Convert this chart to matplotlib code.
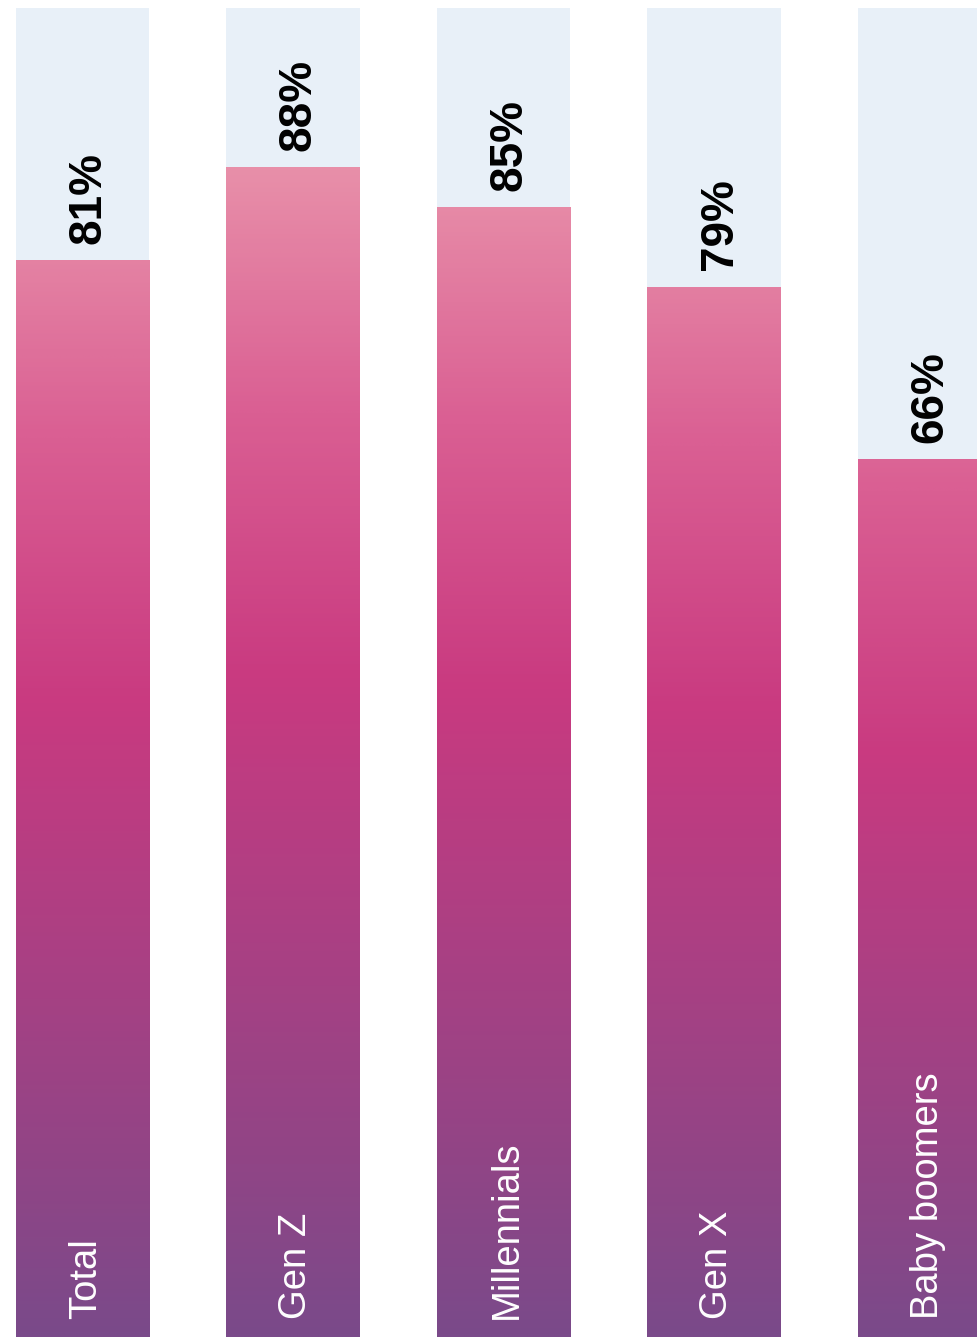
# Share by generation - vertical gradient bars on a light track

import matplotlib
matplotlib.use("Agg")
import matplotlib.pyplot as plt
import numpy as np
from matplotlib.colors import LinearSegmentedColormap

# Data
groups = ['Total', 'Gen Z', 'Millennials', 'Gen X', 'Baby boomers']
values = [81, 88, 85, 79, 66]

track_color = '#e8f0f8'
grad = LinearSegmentedColormap.from_list('bar_grad', [
    (0.0, '#7a4a8a'),
    (0.15, '#904586'),
    (0.58, '#c93a80'),
    (0.80, '#da5f93'),
    (1.0, '#e88fa9'),
])

plt.rcParams['font.family'] = ['Liberation Sans', 'DejaVu Sans']

fig = plt.figure(figsize=(9.77, 13.37), dpi=100)
ax = fig.add_axes([0, 0, 1, 1 - 8 / 1337])

width = 0.632
x = np.arange(len(groups))

# background tracks
ax.bar(x, [100] * len(groups), width=width, color=track_color, zorder=1)

# gradient fills: magenta band sits a bit lower on shorter bars,
# and the pink end fades at a fixed rate above it
for xi, v in zip(x, values):
    peak = 26.4 + 0.264 * v
    y = np.linspace(0, v, 512)
    s = np.where(y < peak, 0.58 * y / peak,
                 0.58 + 0.42 * (y - peak) / 38.4)
    s = np.clip(s, 0, 1).reshape(-1, 1)
    ax.imshow(s, cmap=grad, vmin=0, vmax=1, origin='lower', aspect='auto',
              extent=[xi - width / 2, xi + width / 2, 0, v], zorder=2,
              interpolation='bilinear')

# labels
for xi, v, g in zip(x, values, groups):
    ax.annotate(f'{v}%', (xi, v), xytext=(4, 12), textcoords='offset points',
                rotation=90, ha='center', va='bottom', fontsize=33,
                fontweight='bold', color='black', zorder=3)
    ax.annotate(g, (xi, 0), xytext=(2.5, 13), textcoords='offset points',
                rotation=90, ha='center', va='bottom', fontsize=27.5,
                color='white', zorder=3)

ax.set_xlim(-82.5 / 210.5, (977 - 82.5) / 210.5)
ax.set_ylim(0, 100)
ax.axis('off')

fig.savefig('out.png', dpi=100)
